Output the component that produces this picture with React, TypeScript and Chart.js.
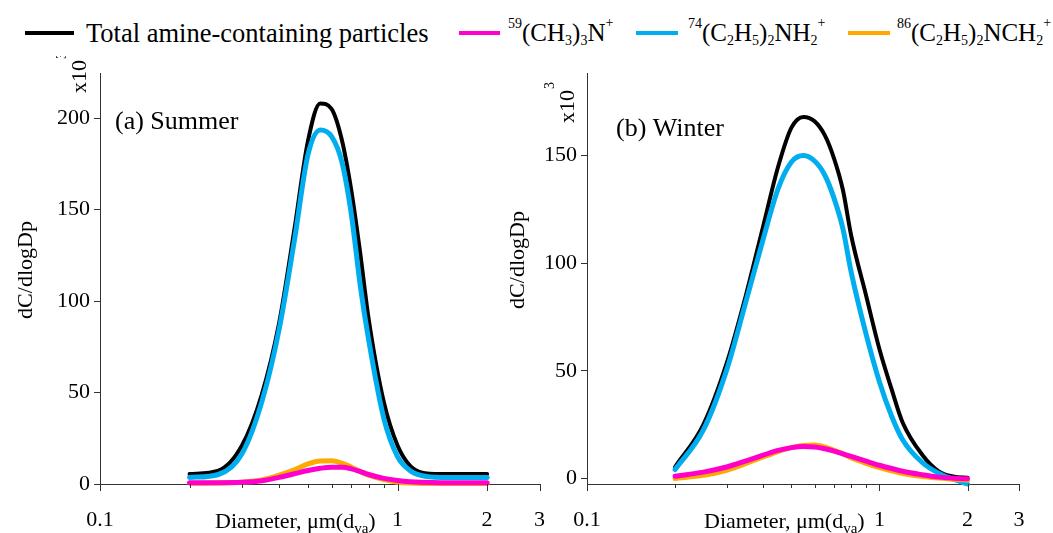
import React, { useEffect, useRef } from "react";
import { Chart, registerables } from "chart.js";

Chart.register(...registerables);

// ---------- data ----------
const diameters = [0.2, 0.25, 0.3, 0.35, 0.4, 0.45, 0.5, 0.55, 0.6, 0.65, 0.7, 0.75, 0.8, 0.9, 1.0, 1.1, 1.2, 1.4, 1.6, 1.8, 2.0];

const summerTotal = [5.4, 7.3, 21, 49, 88, 139, 187.5, 208, 205, 188, 160, 125.6, 90, 44.5, 21, 10, 6.3, 5.4, 5.4, 5.4, 5.4];
const summerTMA = [0.7, 0.7, 0.9, 1.8, 3.6, 5.6, 7.4, 8.6, 9.2, 9.2, 8.3, 6.8, 5.2, 3.1, 1.9, 1.2, 0.9, 0.7, 0.7, 0.7, 0.7];
const summerDEA = [3.6, 5.2, 16.5, 45, 84.5, 133, 180, 193.5, 190, 176, 147, 108, 78.6, 35.6, 15, 7.4, 4.7, 3.6, 3.6, 3.6, 3.6];
const summerDEMA = [0.4, 0.5, 1.0, 2.2, 4.8, 7.8, 11, 12.6, 12.7, 11.4, 9.2, 6.8, 4.8, 2.4, 1.0, 0.5, 0.3, 0.3, 0.3, 0.3, 0.3];

const winterTotal = [5.3, 25, 53.3, 85.5, 117, 144.7, 163, 168, 166, 159.5, 148.5, 134, 113, 85, 60, 41.5, 26, 11, 3.1, 0.8, 0.3];
const winterTMA = [1.0, 2.9, 5.3, 8.2, 10.8, 13.0, 14.3, 14.8, 14.6, 13.8, 12.7, 11.4, 10.2, 8.0, 6.1, 4.6, 3.3, 1.7, 0.6, 0.1, -0.2];
const winterDEA = [4.1, 22.5, 50.2, 82.5, 111, 134.5, 147, 150, 147.5, 141, 130, 116, 96, 67, 44.8, 29, 18, 7.4, 2.3, -0.5, -2.6];
const winterDEMA = [0.0, 1.4, 3.8, 7.0, 10.0, 12.5, 14.3, 15.3, 15.5, 14.6, 13.0, 11.4, 9.6, 7.0, 5.0, 3.5, 2.3, 0.9, 0.15, -0.4, -0.8];

const xMajorTicks = [0.1, 1, 2, 3];
const xMinorTicks = [0.2, 0.3, 0.4, 0.5, 0.6, 0.7, 0.8, 0.9];
const summerYTicks = [0, 50, 100, 150, 200];
const winterYTicks = [0, 50, 100, 150];

const seriesNames = [
  "Total amine-containing particles",
  "59(CH3)3N+",
  "74(C2H5)2NH2+",
  "86(C2H5)2NCH2+",
];
const seriesColors = ["#000000", "#FF00CC", "#00AEEF", "#FFAA00"];

type Seg = [string, "n" | "sup" | "sub"];
const legendLabels: Seg[][] = [
  [["Total amine-containing particles", "n"]],
  [["59", "sup"], ["(CH", "n"], ["3", "sub"], [")", "n"], ["3", "sub"], ["N", "n"], ["+", "sup"]],
  [["74", "sup"], ["(C", "n"], ["2", "sub"], ["H", "n"], ["5", "sub"], [")", "n"], ["2", "sub"], ["NH", "n"], ["2", "sub"], ["+", "sup"]],
  [["86", "sup"], ["(C", "n"], ["2", "sub"], ["H", "n"], ["5", "sub"], [")", "n"], ["2", "sub"], ["NCH", "n"], ["2", "sub"], ["+", "sup"]],
];

const FONT = '"Liberation Serif", "Times New Roman", serif';
const AXIS = "#333333";

type PanelCfg = {
  total: number[];
  tma: number[];
  dea: number[];
  dema: number[];
  yMin: number;
  yMax: number;
  yTicks: number[];
  yWidth: number;
  padRight: number;
  panel: string;
  panelPos: [number, number];
  yTitlePos: [number, number];
  x10Pos: [number, number];
  xTitlePos: [number, number];
};

function pts(vals: number[]) {
  return diameters.map((d, i) => ({ x: d, y: vals[i] }));
}

function makeChart(canvas: HTMLCanvasElement, p: PanelCfg) {
  const decor = {
    id: "decor",
    afterDraw(chart: any) {
      const ctx = chart.ctx as CanvasRenderingContext2D;
      const xs = chart.scales.x;
      const ca = chart.chartArea;
      ctx.save();
      ctx.strokeStyle = AXIS;
      ctx.lineWidth = 1;
      ctx.beginPath();
      for (const v of xMajorTicks) {
        const px = Math.round(xs.getPixelForValue(v)) + 0.5;
        ctx.moveTo(px, ca.bottom);
        ctx.lineTo(px, ca.bottom + 7);
      }
      for (const v of xMinorTicks) {
        const px = Math.round(xs.getPixelForValue(v)) + 0.5;
        ctx.moveTo(px, ca.bottom);
        ctx.lineTo(px, ca.bottom + 4);
      }
      ctx.stroke();

      ctx.fillStyle = "#000";
      ctx.font = `26px ${FONT}`;
      ctx.textAlign = "left";
      ctx.textBaseline = "alphabetic";
      ctx.fillText(p.panel, p.panelPos[0], p.panelPos[1]);

      ctx.save();
      ctx.translate(p.yTitlePos[0], p.yTitlePos[1]);
      ctx.rotate(-Math.PI / 2);
      ctx.font = `22px ${FONT}`;
      ctx.textAlign = "center";
      ctx.textBaseline = "middle";
      ctx.fillText("dC/dlogDp", 0, 0);
      ctx.restore();

      ctx.save();
      ctx.translate(p.x10Pos[0], p.x10Pos[1]);
      ctx.rotate(-Math.PI / 2);
      ctx.textAlign = "left";
      ctx.textBaseline = "alphabetic";
      ctx.font = `22px ${FONT}`;
      ctx.fillText("x10", 0, 0);
      const w = ctx.measureText("x10").width;
      ctx.font = `14px ${FONT}`;
      ctx.fillText("3", w + 1, -20);
      ctx.restore();

      const parts: [string, number, number][] = [
        ["Diameter, \u03BCm(d", 22, 0],
        ["va", 15, 5],
        [")", 22, 0],
      ];
      let cx = p.xTitlePos[0];
      ctx.textAlign = "left";
      ctx.textBaseline = "alphabetic";
      for (const [t, s, dy] of parts) {
        ctx.font = `${s}px ${FONT}`;
        ctx.fillText(t, cx, p.xTitlePos[1] + dy);
        cx += ctx.measureText(t).width;
      }
      ctx.restore();
    },
  };

  const ds = (label: string, vals: number[], color: string, width: number, order: number) => ({
    label,
    data: pts(vals),
    borderColor: color,
    backgroundColor: color,
    borderWidth: width,
    pointRadius: 0,
    fill: false,
    cubicInterpolationMode: "monotone" as const,
    borderCapStyle: "round" as const,
    borderJoinStyle: "round" as const,
    clip: false as any,
    order,
  });

  return new Chart(canvas, {
    type: "line",
    data: {
      datasets: [
        ds(seriesNames[0], p.total, seriesColors[0], 4, 4),
        ds(seriesNames[2], p.dea, seriesColors[2], 5, 3),
        ds(seriesNames[3], p.dema, seriesColors[3], 5, 2),
        ds(seriesNames[1], p.tma, seriesColors[1], 5, 1),
      ],
    },
    options: {
      responsive: false,
      maintainAspectRatio: false,
      animation: false,
      layout: { padding: { top: 9, right: p.padRight, left: 0, bottom: 0 } },
      plugins: { legend: { display: false }, tooltip: { enabled: false }, title: { display: false } },
      scales: {
        x: {
          type: "logarithmic",
          min: 0.1,
          max: 3,
          afterBuildTicks: (s: any) => {
            s.ticks = xMajorTicks.map((v) => ({ value: v }));
          },
          afterFit: (s: any) => {
            s.height = 49;
          },
          grid: { display: false },
          border: { display: true, color: AXIS, width: 1 },
          ticks: {
            autoSkip: false,
            maxRotation: 0,
            padding: 15,
            color: "#000",
            font: { family: FONT, size: 22 },
            callback: (v: any) => String(v),
          },
        },
        y: {
          type: "linear",
          min: p.yMin,
          max: p.yMax,
          afterBuildTicks: (s: any) => {
            s.ticks = p.yTicks.map((v) => ({ value: v }));
          },
          afterFit: (s: any) => {
            s.width = p.yWidth;
          },
          grid: { display: true, drawOnChartArea: false, drawTicks: true, tickLength: 6, color: AXIS, lineWidth: 1 },
          border: { display: true, color: AXIS, width: 1 },
          ticks: {
            padding: 4,
            color: "#000",
            font: { family: FONT, size: 22 },
            callback: (v: any) => String(v),
          },
        },
      },
    },
    plugins: [decor],
  } as any);
}

function LegendText({ segs }: { segs: Seg[] }) {
  return (
    <>
      {segs.map(([t, k], i) =>
        k === "n" ? (
          <span key={i}>{t}</span>
        ) : k === "sup" ? (
          <span key={i} style={{ fontSize: 14, position: "relative", top: t === "+" ? -14 : -13 }}>
            {t}
          </span>
        ) : (
          <span key={i} style={{ fontSize: 14, position: "relative", top: 4 }}>
            {t}
          </span>
        )
      )}
    </>
  );
}

export default function App() {
  const leftRef = useRef<HTMLCanvasElement>(null);
  const rightRef = useRef<HTMLCanvasElement>(null);

  useEffect(() => {
    const c1 = makeChart(leftRef.current!, {
      total: summerTotal,
      tma: summerTMA,
      dea: summerDEA,
      dema: summerDEMA,
      yMin: 0,
      yMax: 224.5,
      yTicks: summerYTicks,
      yWidth: 100,
      padRight: 20,
      panel: "(a) Summer",
      panelPos: [115, 73],
      yTitlePos: [26, 214],
      x10Pos: [86, 37],
      xTitlePos: [215, 472],
    });
    const c2 = makeChart(rightRef.current!, {
      total: winterTotal,
      tma: winterTMA,
      dea: winterDEA,
      dema: winterDEMA,
      yMin: -2.6,
      yMax: 188.3,
      yTicks: winterYTicks,
      yWidth: 92,
      padRight: 34,
      panel: "(b) Winter",
      panelPos: [121, 80],
      yTitlePos: [23, 204],
      x10Pos: [79, 67],
      xTitlePos: [209, 472],
    });
    return () => {
      c1.destroy();
      c2.destroy();
    };
  }, []);

  const lineX = [25, 459, 636, 848];
  const lineW = [49, 41, 42, 42];
  const textX = [86, 508, 688, 897];
  const textSize = [26.5, 25, 25, 25];

  return (
    <div
      style={{
        position: "fixed",
        left: 0,
        top: 0,
        width: 1053,
        height: 533,
        background: "#fff",
        overflow: "hidden",
        fontFamily: FONT,
        color: "#000",
      }}
    >
      {legendLabels.map((segs, i) => (
        <React.Fragment key={i}>
          <div
            style={{
              position: "absolute",
              left: lineX[i],
              top: 31,
              width: lineW[i],
              height: 4,
              background: seriesColors[i],
            }}
          />
          <div
            style={{
              position: "absolute",
              left: textX[i],
              top: 20,
              fontSize: textSize[i],
              lineHeight: "26px",
              whiteSpace: "nowrap",
            }}
          >
            <LegendText segs={segs} />
          </div>
        </React.Fragment>
      ))}
      <canvas
        ref={leftRef}
        width={560}
        height={477}
        style={{ position: "absolute", left: 0, top: 56, width: 560, height: 477 }}
      />
      <canvas
        ref={rightRef}
        width={558}
        height={477}
        style={{ position: "absolute", left: 495, top: 56, width: 558, height: 477 }}
      />
    </div>
  );
}
